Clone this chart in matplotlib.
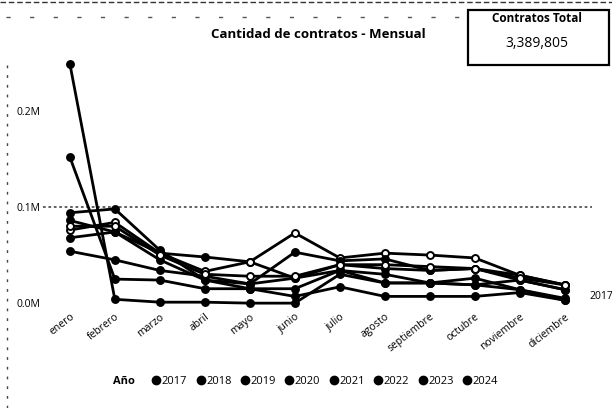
import matplotlib.pyplot as plt
from matplotlib.lines import Line2D
from matplotlib.patches import Rectangle

plt.rcParams['font.family'] = ['Open Sans', 'DejaVu Sans']

meses = ['enero', 'febrero', 'marzo', 'abril', 'mayo', 'junio', 'julio',
         'agosto', 'septiembre', 'octubre', 'noviembre', 'diciembre']
anios = ['2017', '2018', '2019', '2020', '2021', '2022', '2023', '2024']

# contratos por mes
c2017 = [54000, 45000, 34000, 28000, 20000, 26000, 40000, 36000, 34000, 36000, 29000, 19000]
c2018 = [68000, 74000, 52000, 48000, 43000, 26000, 34000, 30000, 21000, 19000, 14000, 5000]
c2019 = [76000, 84000, 52000, 33000, 43000, 73000, 47000, 52000, 50000, 47000, 29000, 19000]
c2020 = [86000, 74000, 45000, 24000, 20000, 53000, 44000, 46000, 34000, 36000, 24000, 14000]
c2021 = [94000, 98000, 55000, 24000, 15000, 15000, 34000, 21000, 21000, 19000, 24000, 14000]
c2022 = [152000, 25000, 24000, 15000, 15000, 7000, 17000, 7000, 7000, 7000, 11000, 3000]
c2023 = [249000, 4000, 1000, 1000, 0, 0, 30000, 21000, 21000, 26000, 14000, 3000]
c2024 = [80000, 80000, 50000, 30000, 28000, 28000, 40000, 40000, 38000, 36000, 26000, 19000]
series = [c2017, c2018, c2019, c2020, c2021, c2022, c2023, c2024]
huecos = ['2019', '2024']  # marcadores que salen claros en la copia

total = '3,389,805'

fig = plt.figure(figsize=(6.12, 4.08), dpi=100)
ax = fig.add_axes([0.07, 0.257, 0.897, 0.608])

x = list(range(len(meses)))
for anio, vals in zip(anios, series):
    fc = 'white' if anio in huecos else 'black'
    ax.plot(x, vals, color='black', lw=2.0, marker='o', ms=5,
            markerfacecolor=fc, markeredgecolor='black', markeredgewidth=1.4,
            clip_on=False, zorder=3)

ax.axhline(100000, color='#555555', lw=1.3, ls=(0, (1.5, 1.5)), zorder=1)

ax.set_xlim(-0.6, 11.6)
ax.set_ylim(0, 258000)
ax.set_yticks([0, 100000, 200000])
ax.set_yticklabels(['0.0M', '0.1M', '0.2M'], fontsize=7.5)
ax.tick_params(axis='y', length=0, pad=2)
ax.set_xticks(x)
ax.set_xticklabels(meses, fontsize=7.5, rotation=38, ha='right', rotation_mode='anchor')
ax.tick_params(axis='x', length=0, pad=6)
for s in ax.spines.values():
    s.set_visible(False)

fig.text(0.52, 0.915, 'Cantidad de contratos - Mensual', ha='center', va='center',
         fontsize=9.5, fontweight='bold')

# tarjeta con el total
fig.patches.append(Rectangle((0.765, 0.84), 0.23, 0.135, transform=fig.transFigure,
                             fill=False, edgecolor='black', lw=1.6))
fig.text(0.878, 0.955, 'Contratos Total', ha='center', va='center', fontsize=8.5, fontweight='bold')
fig.text(0.878, 0.893, total, ha='center', va='center', fontsize=10)

fig.text(0.963, 0.274, '2017', ha='left', va='center', fontsize=7.5)

# artefactos del escaneo
fig.add_artist(Line2D([0, 1], [0.995, 0.995], color='#333333', lw=1, ls=(0, (4, 2))))
fig.add_artist(Line2D([0.01, 0.75], [0.958, 0.958], color='#555555', lw=1, ls=(0, (3, 14))))
fig.add_artist(Line2D([0.012, 0.012], [0.0, 0.85], color='#444444', lw=1, ls=(0, (2, 5))))

handles = [Line2D([], [], ls='', marker='o', ms=6, color='black') for _ in anios]
fig.text(0.185, 0.065, 'Año', ha='left', va='center', fontsize=8, fontweight='bold')
fig.legend(handles, anios, loc='center', bbox_to_anchor=(0.53, 0.065), ncol=8,
           frameon=False, fontsize=8, handletextpad=0.0, columnspacing=0.7,
           handlelength=1.0)

fig.savefig('out.png', dpi=100)
